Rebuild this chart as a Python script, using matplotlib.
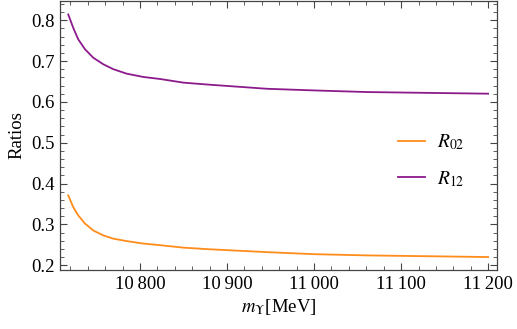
import matplotlib
matplotlib.use("Agg")
import matplotlib.pyplot as plt
from matplotlib.ticker import MultipleLocator, FuncFormatter

plt.rcParams['font.family'] = ['Liberation Serif', 'DejaVu Serif']
plt.rcParams['mathtext.fontset'] = 'stix'

# data
m_vals = [10717.5, 10723.3, 10729, 10736.7, 10746.3, 10757.8, 10769.3, 10784.7,
          10803.7, 10823, 10850, 10880, 10946, 11000, 11061, 11200]
R12 = [0.814, 0.781, 0.753, 0.729, 0.708, 0.692, 0.680, 0.669,
       0.661, 0.656, 0.647, 0.642, 0.632, 0.628, 0.624, 0.620]
R02 = [0.371, 0.342, 0.322, 0.302, 0.285, 0.273, 0.265, 0.259,
       0.253, 0.249, 0.243, 0.239, 0.232, 0.227, 0.224, 0.220]

fig = plt.figure(figsize=(5.17, 3.29), dpi=100)
ax = fig.add_axes([0.116, 0.179, 0.845, 0.818])

ax.plot(m_vals, R02, color='#FF8C1A', lw=1.3, label=r'$R_{02}$')
ax.plot(m_vals, R12, color='#8B1A8B', lw=1.3, label=r'$R_{12}$')

ax.set_xlim(10708, 11210)
ax.set_ylim(0.188, 0.847)
ax.xaxis.set_major_locator(MultipleLocator(100))
ax.xaxis.set_minor_locator(MultipleLocator(20))
ax.yaxis.set_major_locator(MultipleLocator(0.1))
ax.yaxis.set_minor_locator(MultipleLocator(0.02))

def fmt_x(v, pos):
    s = f"{int(round(v))}"
    return s[:-3] + "\u2009" + s[-3:]
ax.xaxis.set_major_formatter(FuncFormatter(fmt_x))
ax.yaxis.set_major_formatter(FuncFormatter(lambda v, p: f"{v:.1f}"))

for sp in ax.spines.values():
    sp.set_color('#444444')
    sp.set_linewidth(0.9)
ax.tick_params(which='both', direction='in', top=True, right=True, color='#444444')
ax.tick_params(which='major', length=5, width=0.8, labelsize=13.5, pad=4)
ax.tick_params(which='minor', length=3, width=0.6)

ax.set_xlabel(r'$m_{\Upsilon}$[MeV]', fontsize=13.5, labelpad=3)
ax.set_ylabel('Ratios', fontsize=13.5, labelpad=4)

leg = ax.legend(loc='center left', bbox_to_anchor=(0.773, 0.407), frameon=False,
                fontsize=14, handlelength=1.4, labelspacing=0.85, handletextpad=0.6,
                borderpad=0, borderaxespad=0)

fig.savefig('out.png', dpi=100)
